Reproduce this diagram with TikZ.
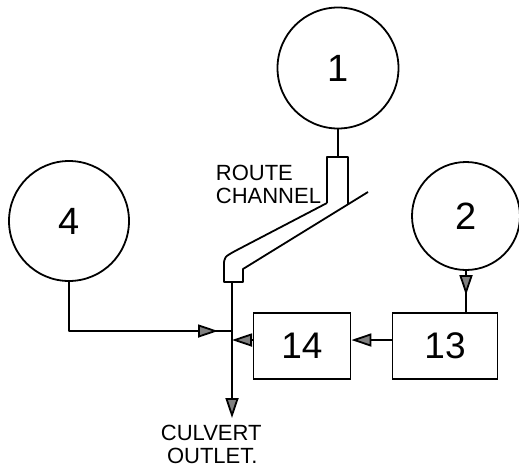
\documentclass[tikz,border=0pt]{standalone}
\usepackage{fontspec}
\setmainfont{Liberation Sans}
\usetikzlibrary{positioning,arrows.meta,calc}

\begin{document}
\begin{tikzpicture}[
  x=1pt, y=-1pt,
  line width=1.8pt,
  basin/.style={
    circle, draw=black, inner sep=0pt,
    font=\fontsize{38}{38}\selectfont
  },
  unit/.style={
    rectangle, draw=black, inner sep=0pt,
    minimum height=66pt, font=\fontsize{37}{37}\selectfont
  },
  lbl/.style={align=left, inner sep=0pt, font=\fontsize{22}{23}\selectfont},
  pipe/.style={draw=black, line join=round},
  arr/.style={-{Triangle[length=20pt,width=13pt,fill=black!50]}, draw=black}
]
\useasboundingbox (0,0) rectangle (519,472);

% sub-basins
\node[basin, minimum size=121pt] (c1) at (338,68)  {1};
\node[basin, minimum size=120pt] (c4) at (69,221)  {4};
\node[basin, minimum size=108pt] (c2) at (466,216) {2};

% hydrograph boxes
\node[unit, minimum width=97pt]  (b14) at (302,346) {14};
\node[unit, minimum width=105pt] (b13) at (445,346) {13};

% route channel
\coordinate (chin)  at (338,157);
\coordinate (chout) at (232,282);
\draw[pipe] (327,203) -- (327,157) -- (348,157) -- (348,204);
\draw[pipe] (368,192) -- (243,269) -- (243,282) -- (224,282) -- (224,266)
  .. controls (224,257) .. (237,250) -- (327,203);
\node[lbl, anchor=north west] (route) at (215,164) {ROUTE\\CHANNEL};

% junction and outlet
\coordinate (j4)  at (232,331);
\coordinate (j14) at (232,340);
\coordinate (cv)  at (232,418);
\node[lbl, anchor=north west] (outlet) at (160,424) {CULVERT\\\ OUTLET.};

\draw[pipe] (c1.south) -- (chin);

\draw[pipe] (c4.south) |- (j4);
\draw[arr] ([xshift=-40pt]j4) -- ([xshift=-14pt]j4);

\draw[pipe] (c2.south) -- (c2.south |- b13.north);
\draw[arr] (c2.south) -- ([yshift=17pt]c2.south |- b13.north);

\draw[arr] ([yshift=6pt]b13.west) -- ([yshift=6pt]b14.east);
\draw[arr] ([yshift=6pt]b14.west) -- (j14);

\draw[arr] (chout) -- (cv);

\end{tikzpicture}
\end{document}
